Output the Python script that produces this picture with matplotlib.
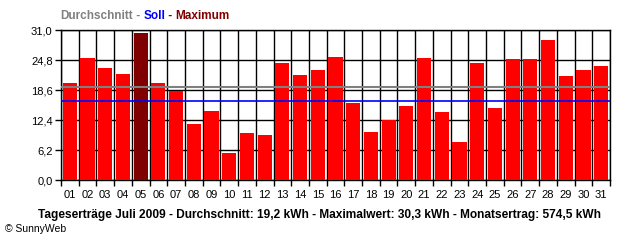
import matplotlib
matplotlib.use("Agg")
from matplotlib import pyplot as plt
import numpy as np

plt.rcParams['font.family'] = ['Liberation Sans', 'DejaVu Sans']

days = ['%02d' % d for d in range(1, 32)]
ertrag = [20.1, 25.3, 23.1, 22.0, 30.3, 20.1, 18.3, 11.6, 14.3, 5.6,
          9.8, 9.4, 24.2, 21.8, 22.8, 25.5, 16.0, 10.0, 12.3, 15.2,
          25.3, 14.1, 7.9, 24.2, 14.9, 25.1, 25.1, 29.0, 21.4, 22.8, 23.6]
durchschnitt = 19.2
soll = 16.3
y_ticks = [0.0, 6.2, 12.4, 18.6, 24.8, 31.0]
y_labels = ['0,0', '6,2', '12,4', '18,6', '24,8', '31,0']

fig = plt.figure(figsize=(6.4, 2.4), dpi=100)
ax = fig.add_axes([61/640, 60/240, 549/640, 150/240])

x = np.arange(1, len(days) + 1)
farben = ['#800000' if v == max(ertrag) else '#ff0000' for v in ertrag]
ax.bar(x, ertrag, width=0.8, color=farben, edgecolor='none', linewidth=0, zorder=2)

ax.axhline(durchschnitt, color='#808080', lw=1.5, zorder=3)
ax.axhline(soll, color='#0000ff', lw=1.2, zorder=3)

lw = 1.0
ax.set_xlim(0.5, len(days) + 0.5)
ax.set_ylim(0, 31.0)
ax.set_xticks(x)
ax.set_xticklabels(days, fontsize=8)
ax.set_xticks(np.arange(0.5, len(days) + 1), minor=True)
ax.tick_params(axis='x', which='major', length=0, pad=7)
ax.tick_params(axis='x', which='minor', length=4, width=lw, color='black', direction='out')
ax.set_yticks(y_ticks)
ax.set_yticklabels(y_labels, fontsize=8)
ax.tick_params(axis='y', length=4, width=lw, direction='out', pad=2)
ax.grid(True, axis='x', which='minor', color='black', lw=lw)
ax.grid(True, axis='y', which='major', color='black', lw=lw)
ax.set_axisbelow(True)
for s in ax.spines.values():
    s.set_linewidth(lw)
    s.set_zorder(1)

# Ueberschrift in drei Farben
fig.canvas.draw()
r = fig.canvas.get_renderer()
xpos = 60 / 640
for teil, farbe in [('Durchschnitt', '#808080'), (' - ', '#808080'), ('Soll', '#0000ff'),
                    (' - ', '#800000'), ('Maximum', '#800000')]:
    t = fig.text(xpos, 1 - 16/240, teil, color=farbe, fontsize=8.5, fontweight='bold', va='center')
    bb = t.get_window_extent(renderer=r)
    xpos += bb.width / 640

fig.text(320/640, 1 - 215/240,
         'Tageserträge Juli 2009 - Durchschnitt: 19,2 kWh - Maximalwert: 30,3 kWh - Monatsertrag: 574,5 kWh',
         fontsize=8.6, fontweight='bold', ha='center', va='center')
fig.text(5/640, 1 - 229/240, '© SunnyWeb', fontsize=7.5, va='center')

fig.savefig('out.png', dpi=100)
